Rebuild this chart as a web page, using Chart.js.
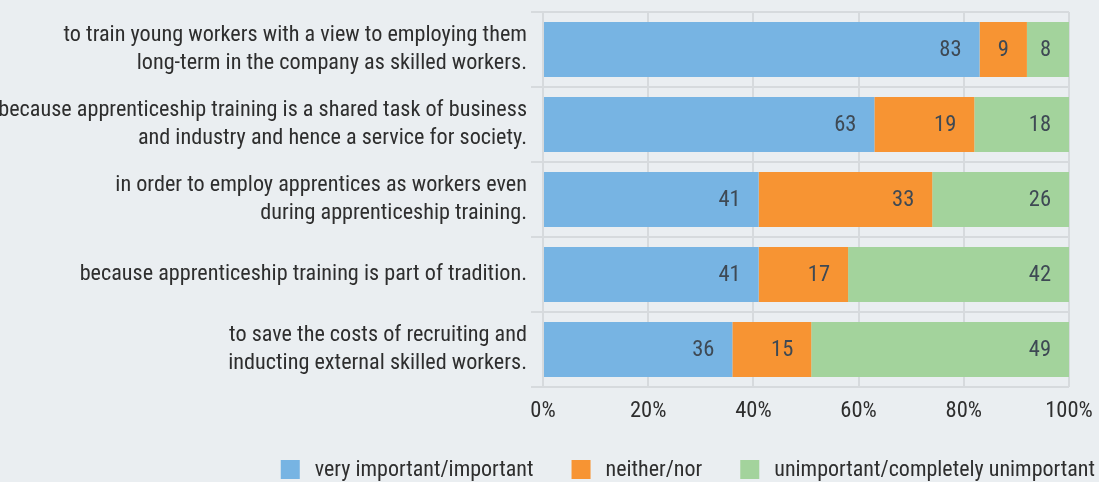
<!DOCTYPE html>
<html><head><meta charset="utf-8">
<script src="https://cdn.jsdelivr.net/npm/chart.js@4"></script>
<style>
html,body{margin:0;padding:0;background:#eaeef1;}
</style></head>
<body><canvas id="c" width="1099" height="482"></canvas>
<script>
const categories = [
  ["to train young workers with a view to employing them","long-term in the company as skilled workers."],
  ["because apprenticeship training is a shared task of business","and industry and hence a service for society."],
  ["in order to employ apprentices as workers even","during apprenticeship training."],
  ["because apprenticeship training is part of tradition."],
  ["to save the costs of recruiting and","inducting external skilled workers."]
];
const seriesNames = ["very important/important","neither/nor","unimportant/completely unimportant"];
const veryImportant = [83,63,41,41,36];
const neither = [9,19,33,17,15];
const unimportant = [8,18,26,42,49];
const xTicks = ["0%","20%","40%","60%","80%","100%"];
const colors = ['#77b4e3','#f79433','#a3d39c'];

const FONT = "'Roboto Condensed','DejaVu Sans Condensed',sans-serif";
const TEXT = '#2e2e2e';

const labelPlugin = {
  id:'segLabels',
  afterDatasetsDraw(chart){
    const ctx = chart.ctx;
    ctx.save();
    ctx.font = "22.5px " + FONT;
    ctx.fillStyle = "#3e4954";
    ctx.textAlign = "right";
    ctx.textBaseline = "middle";
    chart.data.datasets.forEach((ds,i)=>{
      chart.getDatasetMeta(i).data.forEach((bar,j)=>{
        ctx.fillText(String(ds.data[j]), bar.x - 18, bar.y + 1);
      });
    });
    ctx.restore();
  }
};

const legendPlugin = {
  id:'customLegend',
  afterDraw(chart){
    const ctx = chart.ctx;
    ctx.save();
    ctx.font = "22px " + FONT;
    ctx.textBaseline = "middle";
    ctx.textAlign = "left";
    const box = 19, gapText = 15, gapItem = 38, rightEdge = 1095, boxTop = 460;
    const items = chart.data.datasets.map(ds=>({label:ds.label,color:ds.backgroundColor,w:ctx.measureText(ds.label).width}));
    let total = 0;
    items.forEach((it,i)=>{ total += box + gapText + it.w + (i < items.length-1 ? gapItem : 0); });
    let x = rightEdge - total;
    items.forEach(it=>{
      ctx.fillStyle = it.color;
      ctx.fillRect(x, boxTop, box, box);
      ctx.fillStyle = TEXT;
      ctx.fillText(it.label, x + box + gapText, boxTop + box/2 + 1);
      x += box + gapText + it.w + gapItem;
    });
    ctx.restore();
  }
};

new Chart(document.getElementById('c'),{
  type:'bar',
  data:{
    labels:categories,
    datasets:seriesNames.map((n,i)=>({label:n,data:[veryImportant,neither,unimportant][i],backgroundColor:colors[i]}))
  },
  options:{
    indexAxis:'y',
    responsive:false,
    animation:false,
    layout:{padding:{top:12,right:30,left:0,bottom:50}},
    datasets:{bar:{barPercentage:0.733,categoryPercentage:1,borderWidth:0}},
    scales:{
      x:{
        stacked:true,min:0,max:100,
        grid:{color:'#d6dadd',lineWidth:2,drawTicks:false},
        border:{display:false},
        ticks:{stepSize:20,padding:11,color:TEXT,font:{family:FONT,size:22.5},
          callback:(v,i)=>xTicks[i]},
        afterFit(s){s.height=482-387-50; s.paddingLeft=0; s.paddingRight=0;}
      },
      y:{
        stacked:true,
        grid:{color:'#d6dadd',lineWidth:2,tickLength:12,offset:true},
        border:{display:false},
        ticks:{padding:4,color:TEXT,font:{family:FONT,size:22.2,lineHeight:1.26}},
        afterFit(s){s.width=543; s.paddingTop=0; s.paddingBottom=0;}
      }
    },
    plugins:{
      legend:{display:false},
      tooltip:{enabled:false}
    }
  },
  plugins:[labelPlugin,legendPlugin]
});
</script></body></html>
